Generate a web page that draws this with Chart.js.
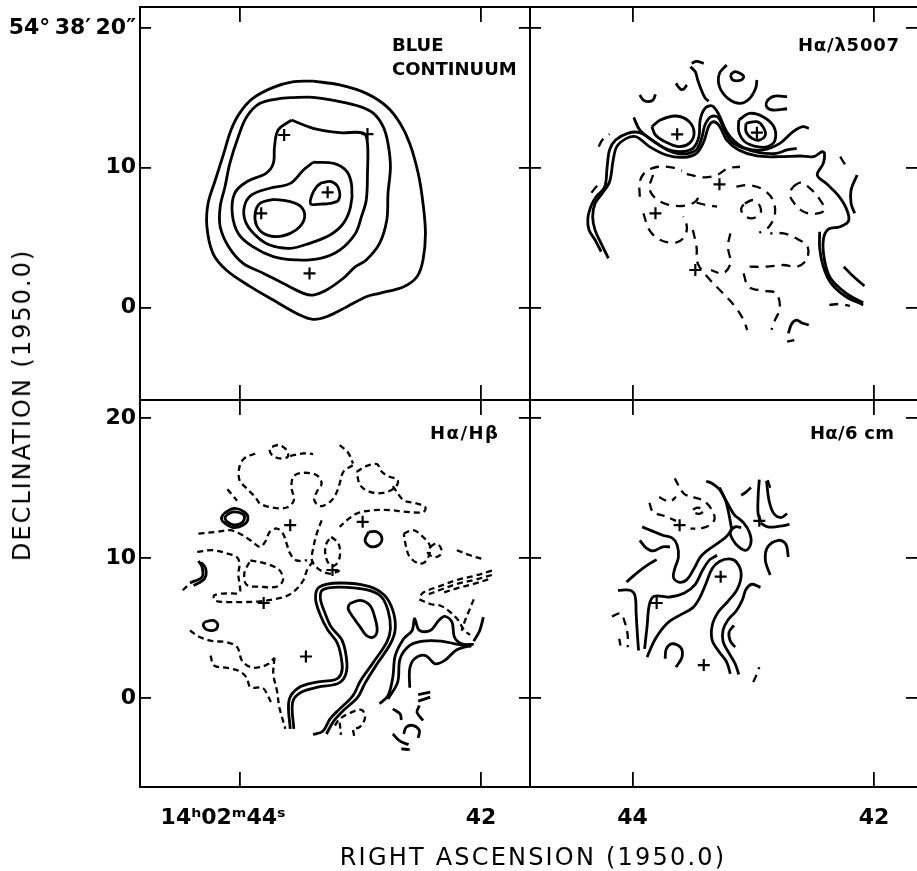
<!DOCTYPE html>
<html>
<head>
<meta charset="utf-8">
<script src="https://cdn.jsdelivr.net/npm/chart.js@4.4.1/dist/chart.umd.min.js"></script>
<style>
  html, body { margin: 0; padding: 0; background: #fff; }
  #fig { position: relative; width: 917px; height: 871px; overflow: hidden; background: #fff; }
  #fig canvas { position: absolute; left: 0; top: 0; }
  .lbl { position: absolute; font-family: 'DejaVu Sans', sans-serif; color: #000; white-space: nowrap; }
  .panel { font-size: 18px; font-weight: bold; line-height: 24px; }
  .axis { font-size: 24px; line-height: 26px; }
</style>
</head>
<body>
<div id="fig">
  <canvas id="blue" width="917" height="871"></canvas>
  <canvas id="o3" width="917" height="871"></canvas>
  <canvas id="balmer" width="917" height="871"></canvas>
  <canvas id="radio" width="917" height="871"></canvas>
  <div class="lbl panel" style="left:392px; top:33px; letter-spacing:0px;">BLUE<br>CONTINUUM</div>
  <div class="lbl panel" style="left:798px; top:33px; letter-spacing:0.8px;">Hα/λ5007</div>
  <div class="lbl panel" style="left:430px; top:421px; letter-spacing:1.5px;">Hα/Hβ</div>
  <div class="lbl panel" style="left:810px; top:421px; letter-spacing:0.3px;">Hα/6 cm</div>
  <div class="lbl axis" style="left:533px; top:844px; letter-spacing:2.2px; transform:translateX(-50%);">RIGHT ASCENSION (1950.0)</div>
  <div class="lbl axis" style="left:22px; top:405px; letter-spacing:2px; transform:translate(-50%,-50%) rotate(-90deg);">DECLINATION (1950.0)</div>
</div>
<script>
// axes: RA in seconds of time (14h02m..), Dec in arcsec offset from 54°38'
const raTicks = [44, 42];
const raLabelsLeft = ['14ʰ02ᵐ44ˢ\u2002\u2002\u2002', '42'];
const raLabelsRight = ['44', '42'];
const decTicks = [20, 10, 0];
const decLabelsTop = ['54°\u200938′\u200920″', '10', '0'];
const decLabelsBottom = ['20', '10', '0'];

// BLUE CONTINUUM contours [ra, dec]
const blueSolid = [
  [[43.39,16.20],[43.17,15.92],[42.95,15.32],[42.78,14.37],[42.67,13.18],[42.59,11.74],[42.52,9.60],[42.48,7.45],[42.46,5.30],[42.48,3.40],[42.53,2.20],[42.64,1.49],[42.84,1.01],[42.95,0.77],[43.11,0.06],[43.28,-0.66],[43.39,-0.85],[43.50,-0.54],[43.72,0.53],[43.91,1.49],[44.11,2.68],[44.22,3.87],[44.27,5.78],[44.26,7.45],[44.20,9.12],[44.13,11.03],[44.07,12.70],[44.00,13.89],[43.89,14.96],[43.72,15.75],[43.55,16.16],[43.39,16.20]],
  [[43.58,15.01],[43.39,15.04],[43.17,14.73],[43.00,14.37],[42.89,13.89],[42.81,12.94],[42.77,11.74],[42.75,10.07],[42.77,8.17],[42.78,6.26],[42.84,4.59],[42.95,3.40],[43.04,2.92],[43.14,2.09],[43.28,1.25],[43.39,0.89],[43.47,1.01],[43.64,1.73],[43.80,2.44],[43.97,3.16],[44.09,4.35],[44.16,5.78],[44.16,7.21],[44.12,8.64],[44.08,10.31],[44.01,12.22],[43.94,13.65],[43.83,14.61],[43.66,14.96],[43.58,15.01]],
  [[43.57,13.41],[43.39,12.82],[43.17,12.51],[42.97,12.46],[42.94,11.74],[42.94,9.60],[42.95,7.69],[42.99,6.50],[43.04,5.30],[43.17,4.11],[43.33,3.52],[43.53,3.40],[43.72,3.64],[43.89,4.35],[44.01,5.30],[44.06,6.74],[44.04,8.17],[43.94,9.00],[43.78,9.60],[43.72,10.31],[43.71,11.51],[43.68,12.70],[43.57,13.41]],
  [[43.39,10.39],[43.22,10.31],[43.11,9.72],[43.07,8.64],[43.08,7.21],[43.14,6.02],[43.25,5.19],[43.42,4.59],[43.58,4.23],[43.75,4.47],[43.87,5.19],[43.95,6.14],[43.96,7.21],[43.90,8.05],[43.75,8.53],[43.58,8.88],[43.47,9.84],[43.39,10.39]],
  [[43.72,7.74],[43.58,7.57],[43.49,7.21],[43.46,6.50],[43.50,5.78],[43.58,5.30],[43.69,5.07],[43.80,5.30],[43.86,5.90],[43.87,6.74],[43.83,7.45],[43.72,7.74]],
  [[43.32,8.93],[43.24,9.00],[43.18,8.53],[43.18,7.69],[43.25,7.45],[43.33,7.40],[43.41,7.40],[43.40,8.05],[43.36,8.64],[43.32,8.93]]
];
const blueStars = [[43.63,12.34],[42.94,12.41],[43.82,6.74],[43.27,8.24],[43.42,2.44]];

// Halpha / lambda5007
const o3Solid = [
  [[43.99,13.60],[43.94,12.70],[43.84,11.98],[43.73,11.39],[43.61,11.15],[43.50,11.39],[43.45,12.22],[43.44,13.41],[43.40,14.25],[43.34,14.42],[43.29,13.89],[43.22,12.58],[43.15,11.86],[43.06,11.39],[42.92,11.27],[42.78,11.74],[42.67,12.58],[42.59,12.94],[42.54,12.82]],
  [[44.20,3.52],[44.26,4.59],[44.31,5.54],[44.33,6.50],[44.31,7.45],[44.25,8.17],[44.19,9.00],[44.16,10.55],[44.13,11.51],[44.05,12.10],[43.97,12.22],[43.86,11.51],[43.72,10.91],[43.58,10.74],[43.47,11.03],[43.41,11.86],[43.37,12.94],[43.33,13.29],[43.28,12.98],[43.22,11.98],[43.12,11.27],[42.97,10.84],[42.78,10.79],[42.61,10.84],[42.50,10.79],[42.43,11.15],[42.41,11.03],[42.42,10.31],[42.47,9.48],[42.39,8.83],[42.30,8.05],[42.23,7.09],[42.21,6.21],[42.28,5.78],[42.38,5.59],[42.42,4.83],[42.41,3.40],[42.36,2.09],[42.23,1.01],[42.09,0.34]],
  [[44.26,3.99],[44.31,4.83],[44.36,5.54],[44.37,6.38],[44.34,7.33],[44.30,7.93],[44.23,8.64],[44.21,10.07],[44.19,11.27],[44.14,11.98],[44.04,12.46],[43.94,12.51],[43.82,11.86],[43.70,11.22],[43.59,10.98],[43.48,11.22],[43.43,12.03],[43.40,13.06],[43.35,13.65],[43.29,13.60],[43.24,12.70],[43.18,11.86],[43.08,11.39],[42.95,11.08],[42.81,11.03],[42.72,11.27],[42.64,11.39]],
  [[43.84,12.94],[43.77,13.41],[43.64,13.70],[43.53,13.29],[43.49,12.46],[43.53,11.74],[43.62,11.51],[43.73,11.86],[43.81,12.34],[43.84,12.94]],
  [[43.06,13.18],[42.97,13.29],[42.92,12.94],[42.90,12.34],[42.95,11.98],[43.01,12.10],[43.06,12.58],[43.06,13.18]],
  [[43.12,13.41],[43.03,13.89],[42.92,13.65],[42.83,12.94],[42.82,11.98],[42.88,11.51],[42.97,11.51],[43.07,11.86],[43.12,12.58],[43.12,13.41]],
  [[43.94,15.20],[43.91,14.84],[43.87,14.73],[43.83,14.84],[43.81,15.25]],
  [[43.64,16.04],[43.61,15.68],[43.58,15.61],[43.55,15.92]],
  [[43.52,17.23],[43.48,16.87],[43.46,16.28],[43.43,15.56],[43.40,15.00],[43.37,14.75]],
  [[43.51,17.47],[43.47,17.61],[43.41,17.47]],
  [[43.19,16.63],[43.15,16.87],[43.08,16.56],[43.10,16.28],[43.17,16.28],[43.19,16.63]],
  [[43.22,17.35],[43.28,16.75],[43.28,15.80],[43.21,14.96],[43.11,14.61],[43.03,14.96],[42.98,15.68],[42.97,16.28]],
  [[42.72,15.08],[42.82,15.13],[42.88,14.84],[42.89,14.37],[42.84,14.13],[42.72,14.22]],
  [[42.45,5.42],[42.45,4.23],[42.42,2.92],[42.36,1.78],[42.24,0.82],[42.09,0.18]],
  [[42.25,2.92],[42.17,2.21],[42.08,1.54]],
  [[42.14,9.48],[42.19,8.41],[42.19,7.45],[42.16,6.74]],
  [[42.71,-1.85],[42.68,-1.14],[42.64,-0.90],[42.60,-1.09],[42.54,-1.25]]
];
const o3Dashed = [
  [[43.94,7.93],[43.94,9.00],[43.89,9.72],[43.79,10.07],[43.68,10.03],[43.59,9.79]],
  [[43.83,9.48],[43.86,8.52],[43.81,7.81],[43.72,7.40],[43.59,7.26],[43.48,7.57],[43.44,8.17]],
  [[43.47,7.50],[43.39,7.33],[43.30,7.21]],
  [[43.55,9.55],[43.41,9.31],[43.30,9.48],[43.21,9.96],[43.11,10.07]],
  [[43.14,8.64],[43.04,8.76],[42.92,8.45],[42.84,7.74],[42.82,6.74],[42.87,5.78],[42.95,5.35]],
  [[43.07,7.45],[43.00,7.69],[42.95,7.33],[42.94,6.74],[43.01,6.38],[43.08,6.62],[43.10,7.09],[43.07,7.45]],
  [[42.67,8.64],[42.61,8.93],[42.53,8.52],[42.45,7.74],[42.41,6.97],[42.50,6.69],[42.60,6.93],[42.67,7.57],[42.70,8.17],[42.67,8.64]],
  [[43.91,6.74],[43.86,5.54],[43.77,4.83],[43.64,4.64],[43.57,5.07],[43.55,5.78],[43.58,6.50]],
  [[43.50,5.54],[43.47,4.35],[43.46,3.16],[43.37,2.09],[43.25,1.01],[43.15,0.06],[43.08,-0.90],[43.05,-1.61]],
  [[43.19,5.30],[43.21,4.35],[43.19,3.16],[43.25,2.44],[43.35,2.68]],
  [[43.08,2.44],[43.04,1.49],[42.92,1.20],[42.81,1.01],[42.78,-0.06],[42.82,-0.90],[42.85,-1.61]],
  [[43.03,2.92],[42.89,2.92],[42.75,3.04],[42.64,2.92],[42.56,3.40],[42.55,4.35],[42.63,4.88],[42.75,5.30],[42.86,5.30]],
  [[42.37,0.18],[42.28,0.25],[42.20,0.11]],
  [[44.34,8.21],[44.30,8.64],[44.26,8.93]],
  [[44.28,11.51],[44.25,11.98],[44.19,12.41]],
  [[42.28,10.79],[42.25,10.36],[42.22,9.96]],
  [[42.72,-2.45],[42.66,-2.33]]
];
const o3Stars = [[43.63,12.39],[42.97,12.51],[43.28,8.81],[43.81,6.74],[43.48,2.68]];

// Halpha / Hbeta
const balmerSolid = [
  [[44.13,13.18],[44.05,13.54],[43.96,13.30],[43.93,12.82],[43.97,12.35],[44.05,12.18],[44.12,12.47],[44.15,12.82],[44.13,13.18]],
  [[44.11,13.06],[44.05,13.30],[43.97,13.13],[43.96,12.78],[43.99,12.47],[44.05,12.37],[44.10,12.59],[44.12,12.82],[44.11,13.06]],
  [[44.34,9.79],[44.31,9.36],[44.31,8.65],[44.41,8.22]],
  [[44.32,9.70],[44.28,9.25],[44.29,8.53],[44.38,8.03]],
  [[44.29,5.43],[44.22,5.55],[44.18,5.26],[44.20,4.88],[44.27,4.88],[44.30,5.19],[44.29,5.43]],
  [[42.93,11.87],[42.86,11.87],[42.82,11.39],[42.85,10.92],[42.92,10.84],[42.96,11.27],[42.93,11.87]],
  [[43.55,-2.20],[43.56,-0.29],[43.49,0.42],[43.35,0.78],[43.19,1.02],[43.13,1.49],[43.11,2.45],[43.15,4.12],[43.24,5.07],[43.29,6.03],[43.33,7.10],[43.31,7.74],[43.17,7.93],[42.95,7.74],[42.83,7.27],[42.77,6.26],[42.75,4.95],[42.78,4.00],[42.89,2.57],[43.00,1.21],[43.06,0.18],[43.17,-0.77],[43.25,-1.49],[43.31,-2.37],[43.39,-2.61]],
  [[43.58,-2.20],[43.59,-0.17],[43.51,0.74],[43.36,1.14],[43.21,1.31],[43.16,1.69],[43.15,2.45],[43.19,3.93],[43.27,4.88],[43.33,5.91],[43.37,7.10],[43.34,7.93],[43.17,8.22],[42.93,7.98],[42.80,7.34],[42.73,6.26],[42.71,4.95],[42.75,3.88],[42.86,2.45],[42.96,1.07],[43.02,0.07],[43.14,-0.89],[43.22,-1.65],[43.28,-2.56]],
  [[43.09,6.74],[43.00,6.98],[42.92,6.62],[42.88,5.79],[42.86,4.83],[42.89,4.36],[42.95,4.48],[43.00,5.07],[43.06,5.79],[43.10,6.38],[43.09,6.74]],
  [[42.84,-0.41],[42.77,0.18],[42.73,1.49],[42.71,3.04],[42.64,4.24],[42.57,4.83],[42.55,5.67],[42.51,4.83],[42.42,4.83],[42.35,5.55],[42.30,5.84],[42.24,5.43],[42.22,4.36],[42.16,3.88],[42.06,3.83]],
  [[42.77,-0.06],[42.69,1.14],[42.67,2.81],[42.59,3.76],[42.48,4.07],[42.33,4.07],[42.19,3.83],[42.08,3.69]],
  [[42.59,0.74],[42.59,2.09],[42.55,2.81],[42.46,3.04],[42.38,2.45],[42.30,2.69],[42.20,3.45],[42.08,3.76]],
  [[42.06,4.07],[42.01,4.83],[41.98,5.79]],
  [[42.73,-0.77],[42.67,-1.13],[42.66,-1.56]],
  [[42.52,0.25],[42.42,0.42]],
  [[42.52,-0.22],[42.42,0.07]],
  [[42.51,-0.53],[42.53,-1.01],[42.48,-1.60]],
  [[42.64,-2.56],[42.62,-2.08],[42.56,-1.96],[42.51,-2.32],[42.52,-2.84]],
  [[42.73,-2.56],[42.67,-3.08],[42.60,-3.32]],
  [[42.66,-3.63],[42.59,-3.68]]
];
const balmerDashed = [
  [[43.73,17.95],[43.67,18.07],[43.61,17.71],[43.60,17.24],[43.67,17.12],[43.73,17.36],[43.75,17.71],[43.73,17.95]],
  [[43.58,17.29],[43.47,17.48],[43.39,17.43]],
  [[43.87,17.47],[43.96,17.12],[44.00,16.52],[44.00,15.57],[43.94,14.97],[43.87,14.37],[43.83,13.90],[43.73,13.61],[43.61,13.61],[43.55,14.13],[43.57,15.09],[43.55,15.85],[43.47,16.09],[43.36,15.92],[43.32,15.33],[43.36,14.73],[43.38,14.13],[43.33,13.71],[43.25,14.02],[43.20,14.61],[43.17,15.33],[43.14,16.16],[43.06,16.64]],
  [[43.03,16.16],[42.95,16.57],[42.86,16.71],[42.83,16.23],[42.77,15.85],[42.69,15.57],[42.71,15.04],[42.81,14.66],[42.92,14.73],[43.00,15.21],[43.03,16.16]],
  [[43.17,18.07],[43.10,17.52],[43.06,16.76]],
  [[42.73,15.14],[42.64,14.13],[42.53,13.90],[42.46,13.61],[42.48,13.28],[42.62,13.30],[42.75,13.42],[42.89,13.42],[43.03,13.18],[43.11,12.70],[43.17,12.23]],
  [[43.32,12.70],[43.36,11.75],[43.39,10.68],[43.40,9.84],[43.35,9.25],[43.26,8.89],[43.17,9.08]],
  [[43.24,11.51],[43.18,11.04],[43.17,10.08],[43.21,9.48],[43.26,9.60],[43.29,10.32],[43.28,11.04],[43.24,11.51]],
  [[44.34,11.75],[44.19,11.87],[44.08,11.99],[44.00,11.75],[43.91,11.27],[43.83,10.80],[43.78,11.27],[43.75,11.87],[43.69,12.11],[43.64,11.75],[43.61,11.04],[43.58,10.32],[43.53,9.84],[43.44,9.84]],
  [[44.35,10.44],[44.22,10.56],[44.10,10.32],[44.02,10.05],[44.00,9.56],[44.01,8.86],[44.00,8.15],[44.00,7.53],[44.11,7.48],[44.21,7.34],[44.20,6.96],[44.10,6.86],[43.97,6.86],[43.83,6.91],[43.72,7.05],[43.61,7.29],[43.53,7.77],[43.47,8.43],[43.44,9.15],[43.39,9.79]],
  [[43.91,9.84],[43.78,9.60],[43.67,9.15],[43.64,8.43],[43.69,7.96],[43.83,7.96],[43.94,8.08],[43.96,8.91],[43.91,9.84]],
  [[42.64,11.75],[42.56,11.99],[42.48,11.51],[42.42,10.80],[42.45,9.84],[42.51,9.60],[42.59,10.08],[42.62,10.80],[42.64,11.75]],
  [[42.42,10.80],[42.37,11.04],[42.33,10.68],[42.34,10.20],[42.39,10.08],[42.44,10.37],[42.42,10.80]],
  [[42.20,10.56],[42.09,10.20],[41.98,9.91]],
  [[41.91,9.10],[42.06,8.72],[42.20,8.43],[42.34,8.00],[42.48,7.53],[42.51,7.20]],
  [[41.91,8.79],[42.06,8.43],[42.20,8.15],[42.34,7.72],[42.45,7.36]],
  [[41.94,8.48],[42.06,8.15],[42.20,7.84],[42.33,7.48]],
  [[42.51,7.05],[42.42,6.72],[42.33,6.58],[42.26,6.17],[42.19,5.58],[42.14,4.86],[42.09,4.51]],
  [[42.06,7.05],[42.09,6.41],[42.13,5.58],[42.16,4.81]],
  [[44.41,4.83],[44.33,4.36],[44.22,4.07],[44.11,4.00],[44.02,3.65],[43.98,2.69],[43.91,2.21],[43.83,2.21],[43.76,2.45],[43.71,2.88]],
  [[44.24,3.04],[44.21,2.33],[44.10,2.16],[44.00,1.92],[43.94,1.45],[43.91,0.78],[43.81,0.74],[43.77,0.26],[43.74,-0.29]],
  [[43.71,2.88],[43.72,1.73],[43.69,0.54],[43.67,-0.65],[43.64,-1.60],[43.62,-2.20]],
  [[44.47,7.70],[44.42,8.12]],
  [[43.21,-1.96],[43.17,-1.49],[43.09,-1.08],[42.99,-0.84],[42.96,-1.37],[43.00,-2.04],[43.06,-2.20]],
  [[43.17,-1.75],[43.16,-2.63]],
  [[43.06,-2.28],[43.05,-2.71]],
  [[44.10,14.91],[44.06,14.51],[44.02,14.10]]
];
const balmerStars = [[43.58,12.35],[42.98,12.59],[43.23,9.15],[43.80,6.79],[43.45,2.97]];

// Halpha / 6 cm
const radioSolid = [
  [[43.39,15.49],[43.34,15.33],[43.28,14.90],[43.22,14.02],[43.16,13.13],[43.08,12.51],[43.03,11.80],[43.02,11.04],[43.06,10.56],[43.12,10.80],[43.17,11.32],[43.19,11.87],[43.15,12.23],[43.10,12.18]],
  [[43.28,15.04],[43.23,14.13],[43.20,13.06],[43.18,12.11]],
  [[43.92,12.23],[43.84,11.94],[43.75,11.63],[43.67,11.42],[43.63,10.92],[43.62,10.05],[43.65,9.25],[43.66,8.60],[43.61,8.27],[43.55,8.46],[43.49,9.25],[43.44,10.05],[43.37,10.61],[43.29,11.08],[43.22,11.56],[43.18,12.04]],
  [[43.94,11.27],[43.89,10.75],[43.83,10.51],[43.75,10.80],[43.69,10.80]],
  [[44.05,8.29],[43.97,8.89],[43.88,9.48],[43.80,9.89]],
  [[44.12,7.70],[44.02,7.70],[43.98,7.34],[43.97,6.03],[43.96,4.60],[43.95,3.40]],
  [[43.90,3.52],[43.88,5.07],[43.86,6.69],[43.82,7.27],[43.69,7.22],[43.57,7.51],[43.48,8.13],[43.42,9.13],[43.36,9.89],[43.30,10.20]],
  [[43.88,2.93],[43.81,4.24],[43.71,5.36],[43.60,5.96],[43.50,6.46],[43.44,7.22],[43.39,8.22],[43.34,9.25],[43.28,9.75],[43.20,9.94],[43.14,9.72],[43.10,8.89],[43.13,7.82],[43.21,6.91],[43.29,6.15],[43.34,5.19],[43.34,4.12],[43.28,3.28],[43.22,2.57],[43.19,1.73]],
  [[43.16,5.19],[43.20,4.72],[43.19,4.07],[43.15,3.64]],
  [[42.94,7.91],[43.01,8.13],[43.06,7.77],[43.09,7.01],[43.14,6.24],[43.21,5.58],[43.25,4.86],[43.25,4.03],[43.20,3.20],[43.15,2.45],[43.12,1.69]],
  [[42.95,15.61],[42.96,14.37],[42.96,13.18],[42.94,12.66]],
  [[42.89,15.52],[42.87,14.13],[42.83,13.18],[42.77,12.89],[42.72,13.18]],
  [[42.94,12.51],[42.88,12.23],[42.78,12.28],[42.70,12.40]],
  [[43.10,14.49],[43.06,14.71],[43.02,15.04]],
  [[42.86,8.79],[42.90,9.86],[42.88,10.80],[42.79,11.27],[42.73,10.99],[42.71,10.08]],
  [[43.73,2.81],[43.72,3.52],[43.67,3.88],[43.60,3.60],[43.59,2.93],[43.64,2.21]]
];
const radioDashed = [
  [[43.86,13.94],[43.83,13.30],[43.73,12.99],[43.64,12.66]],
  [[43.78,14.37],[43.73,14.13],[43.68,14.09],[43.64,14.37]],
  [[43.65,15.69],[43.61,15.04],[43.57,14.57],[43.49,14.33],[43.41,14.09],[43.35,13.54],[43.32,12.82],[43.36,12.35],[43.44,12.11],[43.52,12.11]],
  [[43.50,13.47],[43.46,13.61],[43.41,13.42],[43.44,13.18],[43.48,13.23],[43.50,13.47]],
  [[44.17,5.84],[44.10,6.03],[44.06,5.31],[44.04,4.48],[44.04,3.64]],
  [[44.11,4.24],[44.10,3.76]],
  [[42.88,15.57],[42.86,15.04],[42.84,14.73]],
  [[43.00,1.14],[42.97,1.73],[42.95,2.21]]
];
const radioStars = [[43.61,12.35],[42.95,12.66],[43.27,8.67],[43.80,6.79],[43.41,2.36]];

// ---------------------------------------------------------------
const tickFont = { family: "'DejaVu Sans', sans-serif", size: 22, weight: 'bold' };

function toPoints(list) {
  return list.map(p => ({ x: p[0], y: p[1] }));
}

function buildSets(solid, dashed, stars, dash) {
  const sets = [];
  solid.forEach(c => sets.push({
    data: toPoints(c), showLine: true, borderColor: '#000', borderWidth: 2.8,
    pointRadius: 0, tension: 0.35, fill: false, xAxisID: 'x', yAxisID: 'y'
  }));
  dashed.forEach(c => sets.push({
    data: toPoints(c), showLine: true, borderColor: '#000', borderWidth: 2.3, borderDash: dash,
    pointRadius: 0, tension: 0.35, fill: false, xAxisID: 'x', yAxisID: 'y'
  }));
  sets.push({
    data: toPoints(stars), showLine: false, pointStyle: 'cross', pointRadius: 6,
    borderColor: '#000', borderWidth: 2.2, xAxisID: 'x', yAxisID: 'y'
  });
  return sets;
}

// size = thickness of the axis box (labels are clipped to it)
function axis(pos, range, values, labels, border, size) {
  const horiz = pos === 'top' || pos === 'bottom';
  return {
    type: 'linear', position: pos, axis: horiz ? 'x' : 'y',
    min: range[0], max: range[1], reverse: horiz, bounds: 'data',
    afterBuildTicks: s => { s.ticks = values.map(v => ({ value: v })); },
    afterFit: s => {
      if (horiz) s.height = size; else s.width = size;
      s.paddingTop = 0; s.paddingBottom = 0; s.paddingLeft = 0; s.paddingRight = 0;
    },
    grid: { drawOnChartArea: false, color: '#000', lineWidth: 1.8, tickLength: horiz ? -15 : -11 },
    border: { display: border, color: '#000', width: 2 },
    ticks: {
      display: !!labels, color: '#000', font: tickFont, padding: horiz ? 33 : 15,
      maxRotation: 0, autoSkip: false,
      callback: v => labels ? labels[values.indexOf(v)] : ''
    }
  };
}

function panel(id, box, xr, yr, sets, xLabels, yLabels, rightBorder) {
  const leftSize = yLabels ? box[0] : 0;
  const bottomSize = xLabels ? 871 - box[3] : 0;
  new Chart(document.getElementById(id), {
    type: 'scatter',
    data: { datasets: sets },
    options: {
      responsive: false, animation: false, events: [],
      layout: {
        autoPadding: false,
        padding: { left: box[0] - leftSize, top: box[1], right: 917 - box[2], bottom: 871 - box[3] - bottomSize }
      },
      plugins: { legend: { display: false }, tooltip: { enabled: false } },
      scales: {
        x: axis('bottom', xr, raTicks, xLabels, true, bottomSize),
        x2: axis('top', xr, raTicks, null, true, 0),
        y: axis('left', yr, decTicks, yLabels, true, leftSize),
        y2: axis('right', yr, decTicks, null, rightBorder, 0)
      }
    }
  });
}

const xLeft = [41.594, 44.824], xRight = [41.644, 44.849];
const yTop = [-6.62, 21.50], yBottom = [-6.35, 21.29];

panel('blue', [140, 7, 530, 400], xLeft, yTop,
  buildSets(blueSolid, [], blueStars, [9, 7]), null, decLabelsTop, true);
panel('o3', [530, 7, 917, 400], xRight, yTop,
  buildSets(o3Solid, o3Dashed, o3Stars, [9, 7]), null, null, false);
panel('balmer', [140, 400, 530, 787], xLeft, yBottom,
  buildSets(balmerSolid, balmerDashed, balmerStars, [6, 4]), raLabelsLeft, decLabelsBottom, true);
panel('radio', [530, 400, 917, 787], xRight, yBottom,
  buildSets(radioSolid, radioDashed, radioStars, [8, 6]), raLabelsRight, null, false);
</script>
</body>
</html>
